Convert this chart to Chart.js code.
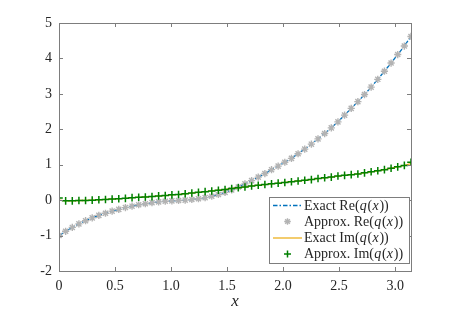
<!DOCTYPE html>
<html>
<head>
<meta charset="utf-8">
<script src="https://cdn.jsdelivr.net/npm/chart.js@4/dist/chart.umd.min.js"></script>
<style>
  html, body { margin: 0; padding: 0; background: #fff; }
  #wrap { width: 454px; height: 314px; position: relative; }
</style>
</head>
<body>
<div id="wrap"><canvas id="qchart"></canvas></div>
<script>
// sample points x_k (0 .. pi)
var xs = [0, 0.0593, 0.1186, 0.1778, 0.2371, 0.2964, 0.3557, 0.4149, 0.4742, 0.5335,
  0.5928, 0.6520, 0.7113, 0.7706, 0.8299, 0.8891, 0.9484, 1.0077, 1.0670, 1.1262,
  1.1855, 1.2448, 1.3041, 1.3633, 1.4226, 1.4819, 1.5412, 1.6004, 1.6597, 1.7190,
  1.7783, 1.8375, 1.8968, 1.9561, 2.0154, 2.0746, 2.1339, 2.1932, 2.2525, 2.3117,
  2.3710, 2.4303, 2.4896, 2.5488, 2.6081, 2.6674, 2.7267, 2.7859, 2.8452, 2.9045,
  2.9638, 3.0230, 3.0823, 3.1416];

var reVals = [-1.00, -0.88, -0.77, -0.67, -0.58, -0.50, -0.43, -0.37, -0.31, -0.26,
  -0.21, -0.17, -0.13, -0.10, -0.07, -0.05, -0.03, -0.02, -0.01, 0.00,
  0.02, 0.04, 0.07, 0.11, 0.16, 0.22, 0.29, 0.37, 0.46, 0.55,
  0.65, 0.75, 0.86, 0.96, 1.07, 1.18, 1.31, 1.44, 1.58, 1.73,
  1.88, 2.04, 2.21, 2.40, 2.59, 2.78, 2.98, 3.19, 3.41, 3.64,
  3.87, 4.11, 4.35, 4.62];

var imApprox = [0.06, -0.02, -0.02, -0.01, -0.01, 0.00, 0.01, 0.02, 0.03, 0.04,
  0.05, 0.07, 0.08, 0.09, 0.10, 0.12, 0.13, 0.15, 0.16, 0.18,
  0.20, 0.22, 0.24, 0.26, 0.28, 0.30, 0.33, 0.35, 0.37, 0.40,
  0.42, 0.44, 0.46, 0.48, 0.50, 0.52, 0.54, 0.56, 0.58, 0.61,
  0.63, 0.65, 0.68, 0.70, 0.72, 0.74, 0.77, 0.80, 0.83, 0.86,
  0.90, 0.94, 0.98, 1.07];

var imExact = [0.00, -0.02, -0.02, -0.01, -0.01, 0.00, 0.01, 0.02, 0.03, 0.04,
  0.05, 0.07, 0.08, 0.09, 0.10, 0.12, 0.13, 0.15, 0.16, 0.18,
  0.20, 0.22, 0.24, 0.26, 0.28, 0.30, 0.33, 0.35, 0.37, 0.40,
  0.42, 0.44, 0.46, 0.48, 0.50, 0.52, 0.54, 0.56, 0.58, 0.61,
  0.63, 0.65, 0.68, 0.70, 0.72, 0.74, 0.77, 0.80, 0.83, 0.86,
  0.90, 0.94, 0.98, 1.03];

var xTicks = [0, 0.5, 1, 1.5, 2, 2.5, 3];
var yTicks = [-2, -1, 0, 1, 2, 3, 4, 5];

var BLUE = "#0072BD", GRAY = "#b3b3b3", ORANGE = "#EDB120", GREEN = "#008000";
var AXIS = "#7d7d7d", TEXT = "#262626";
var SERIF = "'Liberation Serif', 'DejaVu Serif', serif";

function pts(ys) {
  return xs.map(function (x, i) { return { x: x, y: ys[i] }; });
}

// frame, inward ticks and the legend
var frame = {
  id: "frame",
  afterDatasetsDraw: function (chart) {
    var ctx = chart.ctx, a = chart.chartArea;
    var sx = chart.scales.x, sy = chart.scales.y;
    ctx.save();
    ctx.strokeStyle = AXIS;
    ctx.lineWidth = 1;
    ctx.strokeRect(Math.round(a.left) + 0.5, Math.round(a.top) + 0.5,
      Math.round(a.right - a.left), Math.round(a.bottom - a.top));
    ctx.beginPath();
    xTicks.forEach(function (v) {
      var p = Math.round(sx.getPixelForValue(v)) + 0.5;
      ctx.moveTo(p, a.bottom); ctx.lineTo(p, a.bottom - 4);
      ctx.moveTo(p, a.top); ctx.lineTo(p, a.top + 4);
    });
    yTicks.forEach(function (v) {
      var p = Math.round(sy.getPixelForValue(v)) + 0.5;
      ctx.moveTo(a.left, p); ctx.lineTo(a.left + 4, p);
      ctx.moveTo(a.right, p); ctx.lineTo(a.right - 4, p);
    });
    ctx.stroke();
    ctx.restore();
  },
  afterDraw: function (chart) {
    var ctx = chart.ctx;
    var bx = 269.5, by = 197.5, bw = 140, bh = 66;
    ctx.save();
    ctx.fillStyle = "#fff";
    ctx.fillRect(bx, by, bw, bh);
    ctx.strokeStyle = "#7d7d7d";
    ctx.lineWidth = 1;
    ctx.strokeRect(bx, by, bw, bh);

    var rows = [
      { y: 205.5, kind: "dashdot", label: "Re" , pre: "Exact " },
      { y: 221.5, kind: "star", label: "Re", pre: "Approx. " },
      { y: 238, kind: "line", label: "Im", pre: "Exact " },
      { y: 254, kind: "cross", label: "Im", pre: "Approx. " }
    ];
    rows.forEach(function (r) {
      ctx.save();
      if (r.kind === "dashdot") {
        ctx.strokeStyle = BLUE; ctx.lineWidth = 1.5;
        ctx.setLineDash([4.5, 2, 1.5, 2]);
        ctx.beginPath(); ctx.moveTo(273, r.y); ctx.lineTo(302, r.y); ctx.stroke();
      } else if (r.kind === "line") {
        ctx.strokeStyle = ORANGE; ctx.lineWidth = 1.3;
        ctx.beginPath(); ctx.moveTo(273, r.y); ctx.lineTo(302, r.y); ctx.stroke();
      } else if (r.kind === "star") {
        ctx.strokeStyle = GRAY; ctx.lineWidth = 1.4;
        ctx.beginPath();
        for (var k = 0; k < 4; k++) {
          var t = k * Math.PI / 4;
          ctx.moveTo(287.5 - 3.3 * Math.cos(t), r.y - 3.3 * Math.sin(t));
          ctx.lineTo(287.5 + 3.3 * Math.cos(t), r.y + 3.3 * Math.sin(t));
        }
        ctx.stroke();
      } else {
        ctx.strokeStyle = GREEN; ctx.lineWidth = 1.5;
        ctx.beginPath();
        ctx.moveTo(284, r.y); ctx.lineTo(291, r.y);
        ctx.moveTo(287.5, r.y - 3.5); ctx.lineTo(287.5, r.y + 3.5);
        ctx.stroke();
      }
      ctx.restore();
      // mixed roman / italic label text
      var segs = [[r.pre + r.label + "(", false], ["q", true], ["(", false], ["x", true], ["))", false]];
      var x = 304;
      ctx.fillStyle = TEXT;
      ctx.textBaseline = "middle";
      ctx.textAlign = "left";
      segs.forEach(function (s) {
        ctx.font = (s[1] ? "italic " : "") + "14px " + SERIF;
        ctx.fillText(s[0], x, r.y + 0.5);
        x += ctx.measureText(s[0]).width + (s[1] ? 0.8 : 0.2);
      });
    });
    ctx.restore();
  }
};

var config = {
  type: "scatter",
  data: {
    datasets: [
      {
        label: "Exact Re(q(x))",
        data: pts(reVals),
        showLine: true,
        borderColor: BLUE,
        borderWidth: 1.3,
        borderDash: [4.5, 2, 1.5, 2],
        pointRadius: 0,
        order: 4
      },
      {
        label: "Approx. Re(q(x))",
        data: pts(reVals),
        showLine: false,
        pointStyle: "star",
        pointRadius: 3.6,
        borderColor: GRAY,
        backgroundColor: GRAY,
        pointBorderWidth: 1.4,
        order: 3
      },
      {
        label: "Exact Im(q(x))",
        data: pts(imExact),
        showLine: true,
        borderColor: ORANGE,
        borderWidth: 1.3,
        pointRadius: 0,
        order: 2
      },
      {
        label: "Approx. Im(q(x))",
        data: pts(imApprox),
        showLine: false,
        pointStyle: "cross",
        pointRadius: 3.8,
        borderColor: GREEN,
        backgroundColor: GREEN,
        pointBorderWidth: 1.5,
        order: 1
      }
    ]
  },
  options: {
    responsive: true,
    maintainAspectRatio: false,
    animation: false,
    devicePixelRatio: 1,
    layout: { padding: { top: 23, right: 43, left: 0, bottom: 0 } },
    plugins: {
      legend: { display: false },
      tooltip: { enabled: false }
    },
    scales: {
      x: {
        type: "linear",
        min: 0,
        max: Math.PI,
        afterBuildTicks: function (s) { s.ticks = xTicks.map(function (v) { return { value: v }; }); },
        afterFit: function (s) { s.height = 43; },
        grid: { display: false, drawTicks: false },
        border: { display: false },
        ticks: {
          color: TEXT,
          padding: 7,
          maxRotation: 0,
          autoSkip: false,
          font: { family: SERIF, size: 14 }
        },
        title: {
          display: true,
          text: "x",
          color: TEXT,
          padding: { top: 0, bottom: 2 },
          font: { family: SERIF, size: 17, style: "italic" }
        }
      },
      y: {
        type: "linear",
        min: -2,
        max: 5,
        afterBuildTicks: function (s) { s.ticks = yTicks.map(function (v) { return { value: v }; }); },
        afterFit: function (s) { s.width = 59; },
        grid: { display: false, drawTicks: false },
        border: { display: false },
        ticks: {
          color: TEXT,
          padding: 7,
          autoSkip: false,
          font: { family: SERIF, size: 14 }
        }
      }
    }
  },
  plugins: [frame]
};

var ctx = document.getElementById("qchart").getContext("2d");
window.qChart = new Chart(ctx, config);
</script>
</body>
</html>
